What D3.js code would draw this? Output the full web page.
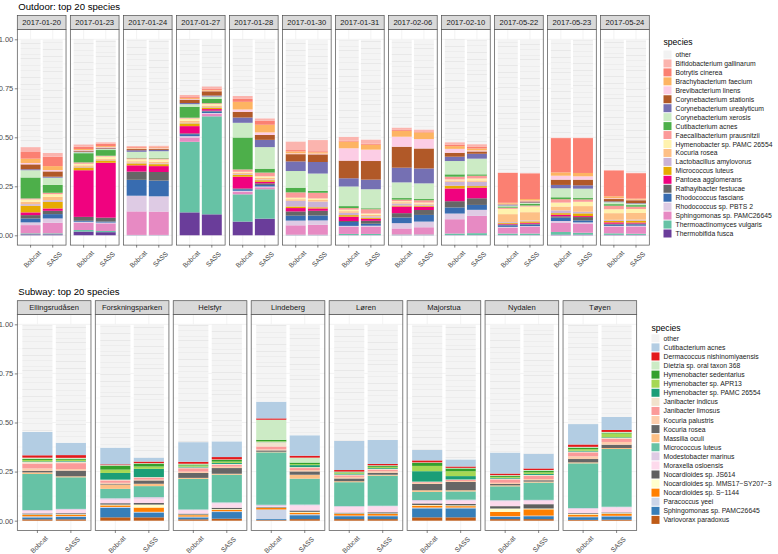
<!DOCTYPE html>
<html>
<head>
<meta charset="utf-8">
<script src="https://cdn.jsdelivr.net/npm/d3@7"></script>
<style>
  body { margin: 0; background: #fff; }
  svg { display: block; font-family: "Liberation Sans", Arial, sans-serif; }
</style>
</head>
<body>
<svg width="778" height="554"></svg>
<script>
// ---------- data ----------
const samplers = ["Bobcat", "SASS"];

const outdoorDates = ["2017-01-20","2017-01-23","2017-01-24","2017-01-27","2017-01-28","2017-01-30",
                      "2017-01-31","2017-02-06","2017-02-10","2017-05-22","2017-05-23","2017-05-24"];
const outdoorSpecies = ["Bifidobacterium gallinarum","Botrytis cinerea","Brachybacterium faecium",
  "Brevibacterium linens","Corynebacterium stationis","Corynebacterium urealyticum","Corynebacterium xerosis",
  "Cutibacterium acnes","Faecalibacterium prausnitzii","Hymenobacter sp. PAMC 26554","Kocuria rosea",
  "Lactobacillus amylovorus","Micrococcus luteus","Pantoea agglomerans","Rathayibacter festucae",
  "Rhodococcus fascians","Rhodococcus sp. PBTS 2","Sphingomonas sp. PAMC26645","Thermoactinomyces vulgaris",
  "Thermobifida fusca"];
const outdoorColors = ["#fbb4ae","#fb8072","#fdb462","#fccde5","#b15928","#7570b3","#ccebc5","#4daf4a",
  "#fb9a99","#fff2ae","#fdc086","#cab2d6","#e6ab02","#f0027f","#666666","#386cb0","#decbe4","#e78ac3",
  "#66c2a5","#6a3d9a"];
// relative abundance per date, species in legend order
const outdoorBobcat = [
  [0.025,0.034,0.022,0.007,0.025,0.005,0.037,0.107,0.005,0.012,0.012,0.008,0.034,0.014,0.017,0.020,0.014,0.042,0.005,0.005],
  [0.012,0.012,0.005,0.003,0.005,0.003,0.005,0.047,0.007,0.008,0.008,0.003,0.014,0.238,0.020,0.005,0.005,0.037,0.008,0.019],
  [0.005,0.004,0.004,0.003,0.006,0.008,0.030,0.003,0.005,0.010,0.007,0.004,0.010,0.032,0.042,0.081,0.080,0.120,0.001,0.001],
  [0.012,0.005,0.005,0.003,0.017,0.006,0.013,0.056,0.004,0.012,0.010,0.003,0.014,0.037,0.004,0.010,0.007,0.022,0.360,0.117],
  [0.015,0.015,0.039,0.012,0.029,0.027,0.075,0.163,0.012,0.004,0.007,0.004,0.010,0.060,0.004,0.008,0.005,0.013,0.139,0.070],
  [0.044,0.007,0.010,0.004,0.037,0.049,0.085,0.024,0.027,0.008,0.008,0.029,0.008,0.017,0.022,0.025,0.024,0.048,0.002,0.001],
  [0.020,0.005,0.034,0.063,0.090,0.042,0.100,0.010,0.008,0.008,0.008,0.012,0.008,0.022,0.005,0.020,0.005,0.036,0.006,0.001],
  [0.012,0.005,0.030,0.051,0.107,0.075,0.080,0.008,0.008,0.005,0.007,0.010,0.005,0.034,0.022,0.029,0.027,0.031,0.003,0.001],
  [0.012,0.008,0.014,0.020,0.020,0.022,0.068,0.012,0.014,0.005,0.007,0.020,0.014,0.065,0.032,0.031,0.029,0.073,0.008,0.001],
  [0.003,0.152,0.005,0.003,0.003,0.003,0.005,0.006,0.006,0.027,0.040,0.004,0.005,0.004,0.004,0.008,0.004,0.030,0.008,0.001],
  [0.003,0.175,0.017,0.020,0.027,0.017,0.046,0.010,0.017,0.020,0.020,0.014,0.008,0.008,0.007,0.017,0.010,0.046,0.014,0.003],
  [0.003,0.132,0.010,0.004,0.012,0.004,0.010,0.008,0.018,0.020,0.034,0.005,0.008,0.007,0.004,0.007,0.004,0.034,0.008,0.002]
];
const outdoorSASS = [
  [0.020,0.048,0.020,0.007,0.027,0.005,0.037,0.040,0.007,0.014,0.017,0.008,0.034,0.012,0.017,0.022,0.022,0.054,0.005,0.005],
  [0.008,0.012,0.005,0.003,0.004,0.003,0.005,0.029,0.004,0.012,0.005,0.003,0.012,0.280,0.020,0.005,0.004,0.039,0.006,0.016],
  [0.005,0.005,0.004,0.003,0.005,0.007,0.034,0.003,0.005,0.012,0.008,0.004,0.010,0.030,0.044,0.080,0.078,0.119,0.001,0.001],
  [0.013,0.005,0.004,0.003,0.022,0.005,0.012,0.022,0.004,0.008,0.007,0.003,0.008,0.008,0.004,0.008,0.004,0.013,0.500,0.107],
  [0.013,0.020,0.039,0.013,0.025,0.037,0.110,0.020,0.019,0.008,0.008,0.004,0.008,0.008,0.008,0.008,0.004,0.010,0.150,0.085],
  [0.057,0.005,0.007,0.004,0.039,0.059,0.088,0.010,0.029,0.008,0.008,0.029,0.006,0.012,0.024,0.025,0.022,0.051,0.002,0.001],
  [0.022,0.005,0.025,0.058,0.095,0.049,0.097,0.005,0.022,0.007,0.007,0.007,0.006,0.010,0.015,0.010,0.005,0.037,0.006,0.001],
  [0.010,0.005,0.034,0.048,0.102,0.076,0.080,0.006,0.012,0.005,0.006,0.005,0.005,0.017,0.025,0.034,0.029,0.037,0.003,0.001],
  [0.012,0.010,0.010,0.005,0.012,0.025,0.080,0.007,0.014,0.010,0.007,0.022,0.008,0.054,0.034,0.025,0.031,0.088,0.010,0.001],
  [0.003,0.131,0.008,0.004,0.005,0.003,0.005,0.008,0.005,0.029,0.042,0.005,0.007,0.005,0.004,0.008,0.004,0.034,0.008,0.001],
  [0.003,0.178,0.017,0.017,0.029,0.017,0.048,0.007,0.012,0.022,0.029,0.008,0.014,0.005,0.017,0.010,0.007,0.046,0.010,0.003],
  [0.003,0.130,0.005,0.003,0.015,0.003,0.007,0.008,0.012,0.020,0.034,0.005,0.010,0.005,0.004,0.007,0.004,0.037,0.006,0.002]
];

const subwayStations = ["Ellingsrudåsen","Forskningsparken","Helsfyr","Lindeberg","Løren","Majorstua","Nydalen","Tøyen"];
const subwaySpecies = ["Cutibacterium acnes","Dermacoccus nishinomiyaensis","Dietzia sp. oral taxon 368",
  "Hymenobacter sedentarius","Hymenobacter sp. APR13","Hymenobacter sp. PAMC 26554","Janibacter indicus",
  "Janibacter limosus","Kocuria palustris","Kocuria rosea","Massilia oculi","Micrococcus luteus",
  "Modestobacter marinus","Moraxella osloensis","Nocardioides sp. JS614","Nocardioides sp. MMS17\u2212SY207\u22123",
  "Nocardioides sp. S\u22121144","Paracoccus yeei","Sphingomonas sp. PAMC26645","Variovorax paradoxus"];
const subwayColors = ["#b3cde3","#e31a1c","#ccebc5","#33a02c","#a6d854","#1b9e77","#f1e2cc","#fb9a99",
  "#fdcdac","#666666","#fdc086","#66c2a5","#decbe4","#fddaec","#5f5f5f","#ffffcc","#ff7f00","#cbd5e8",
  "#377eb8","#bf5b17"];
const subwayBobcat = [
  [0.119,0.012,0.007,0.005,0.007,0.003,0.008,0.025,0.012,0.008,0.008,0.184,0.005,0.012,0.005,0.003,0.007,0.005,0.010,0.007],
  [0.085,0.004,0.003,0.020,0.017,0.034,0.004,0.012,0.005,0.004,0.022,0.048,0.007,0.018,0.007,0.004,0.008,0.004,0.049,0.017],
  [0.100,0.010,0.004,0.005,0.006,0.004,0.004,0.017,0.007,0.025,0.005,0.156,0.004,0.017,0.005,0.003,0.007,0.004,0.010,0.007],
  [0.085,0.007,0.102,0.007,0.003,0.002,0.022,0.015,0.005,0.007,0.003,0.267,0.007,0.004,0.003,0.002,0.008,0.049,0.005,0.003],
  [0.148,0.008,0.004,0.004,0.004,0.003,0.004,0.008,0.008,0.014,0.005,0.122,0.004,0.029,0.004,0.003,0.008,0.003,0.015,0.008],
  [0.053,0.010,0.003,0.015,0.027,0.053,0.003,0.004,0.005,0.032,0.008,0.042,0.007,0.010,0.008,0.003,0.010,0.004,0.046,0.017],
  [0.107,0.008,0.004,0.005,0.005,0.004,0.004,0.017,0.006,0.007,0.005,0.071,0.005,0.025,0.012,0.017,0.022,0.003,0.012,0.008],
  [0.104,0.012,0.004,0.008,0.008,0.004,0.004,0.020,0.014,0.017,0.005,0.228,0.004,0.022,0.004,0.003,0.010,0.003,0.014,0.004]
];
const subwaySASS = [
  [0.063,0.014,0.005,0.005,0.006,0.003,0.008,0.030,0.008,0.029,0.005,0.161,0.005,0.017,0.005,0.003,0.007,0.004,0.012,0.007],
  [0.020,0.008,0.003,0.014,0.012,0.042,0.003,0.010,0.004,0.017,0.012,0.056,0.008,0.022,0.008,0.015,0.022,0.003,0.025,0.017],
  [0.080,0.012,0.003,0.008,0.007,0.005,0.004,0.010,0.007,0.029,0.005,0.141,0.005,0.022,0.007,0.004,0.007,0.004,0.034,0.010],
  [0.104,0.010,0.025,0.008,0.005,0.010,0.005,0.010,0.007,0.017,0.020,0.132,0.005,0.025,0.007,0.004,0.008,0.005,0.020,0.008],
  [0.122,0.007,0.004,0.005,0.005,0.004,0.004,0.008,0.008,0.010,0.005,0.153,0.004,0.029,0.006,0.003,0.008,0.003,0.015,0.008],
  [0.036,0.007,0.003,0.014,0.025,0.017,0.003,0.005,0.005,0.042,0.006,0.042,0.005,0.017,0.007,0.004,0.007,0.004,0.046,0.017],
  [0.075,0.008,0.004,0.008,0.008,0.005,0.004,0.017,0.006,0.007,0.005,0.088,0.005,0.017,0.022,0.004,0.032,0.003,0.015,0.008],
  [0.066,0.010,0.004,0.004,0.019,0.003,0.004,0.017,0.014,0.017,0.005,0.294,0.004,0.025,0.004,0.003,0.010,0.003,0.017,0.005]
];

const yBreaks = [0, 0.25, 0.5, 0.75, 1];
const yMinor  = [0.125, 0.375, 0.625, 0.875];

// ---------- drawing ----------
const svg  = d3.select("svg");
const defs = svg.append("defs");
let patCount = 0;

// faint striped texture for the many tiny "other" taxa
function otherPattern() {
  const id = "other" + patCount;
  const off = (patCount * 13) % 41;
  patCount++;
  const p = defs.append("pattern").attr("id", id)
    .attr("patternUnits", "userSpaceOnUse")
    .attr("width", 10).attr("height", 41)
    .attr("patternTransform", `translate(0,${off})`);
  p.append("rect").attr("width", 10).attr("height", 41).attr("fill", "#f4f4f4");
  [2, 7.5, 13, 17, 24, 29.5, 36].forEach((yy, i) => {
    p.append("rect").attr("x", 0).attr("y", yy).attr("width", 10)
      .attr("height", i % 3 === 0 ? 0.9 : 0.5).attr("fill", "#e7e7e7");
  });
  return id;
}

function drawPanel(cfg) {
  const g = svg.append("g");

  const fx = d3.scaleBand().domain(cfg.facets).range([cfg.left, cfg.right]).paddingInner(cfg.gap);
  const xin = d3.scaleBand().domain(samplers).range([0, fx.bandwidth()]).paddingInner(0.1).paddingOuter(0.15);
  const y = d3.scaleLinear().domain([-0.05, 1.05]).range([cfg.panelBottom, cfg.panelTop]);
  const color = d3.scaleOrdinal().domain(["other", ...cfg.species]).range(["#f2f2f2", ...cfg.colors]);

  // rows: one per facet x sampler
  const rows = [];
  cfg.facets.forEach((f, i) => {
    samplers.forEach(s => {
      const vals = (s === "Bobcat" ? cfg.bobcat : cfg.sass)[i];
      const r = { facet: f, sampler: s, pat: otherPattern() };
      cfg.species.forEach((sp, k) => r[sp] = vals[k]);
      r.other = 1 - d3.sum(vals);
      rows.push(r);
    });
  });
  // first legend level sits on top of the stack (ggplot order)
  const series = d3.stack().keys([...cfg.species].reverse().concat("other"))(rows);

  // title
  g.append("text").attr("x", cfg.left + 1).attr("y", cfg.titleY)
    .style("font-size", "9.6px").attr("fill", "#000").text(cfg.title);

  const pw = fx.bandwidth();
  const facetG = g.selectAll(".facet").data(cfg.facets).join("g")
    .attr("class", "facet")
    .attr("transform", d => `translate(${fx(d)},0)`);

  // panel background + grid
  facetG.append("rect").attr("x", 0).attr("y", cfg.panelTop)
    .attr("width", pw).attr("height", cfg.panelBottom - cfg.panelTop).attr("fill", "#fff");
  facetG.each(function() {
    const fg = d3.select(this);
    yMinor.forEach(v => fg.append("line").attr("x1", 0).attr("x2", pw)
      .attr("y1", y(v)).attr("y2", y(v)).attr("stroke", "#f0f0f0").attr("stroke-width", 0.35));
    yBreaks.forEach(v => fg.append("line").attr("x1", 0).attr("x2", pw)
      .attr("y1", y(v)).attr("y2", y(v)).attr("stroke", "#ebebeb").attr("stroke-width", 0.6));
    samplers.forEach(s => {
      const cx = xin(s) + xin.bandwidth() / 2;
      fg.append("line").attr("x1", cx).attr("x2", cx)
        .attr("y1", cfg.panelTop).attr("y2", cfg.panelBottom).attr("stroke", "#ebebeb").attr("stroke-width", 0.6);
    });
  });

  // stacked bars
  g.append("g").selectAll("g").data(series).join("g")
    .selectAll("rect").data(s => s.map(d => ({ key: s.key, d })))
    .join("rect")
    .attr("x", o => fx(o.d.data.facet) + xin(o.d.data.sampler))
    .attr("width", xin.bandwidth())
    .attr("y", o => y(o.d[1]))
    .attr("height", o => Math.max(0, y(o.d[0]) - y(o.d[1])))
    .attr("fill", o => o.key === "other" ? `url(#${o.d.data.pat})` : color(o.key));

  // panel border + strip
  facetG.append("rect").attr("x", 0).attr("y", cfg.panelTop)
    .attr("width", pw).attr("height", cfg.panelBottom - cfg.panelTop)
    .attr("fill", "none").attr("stroke", "#4d4d4d").attr("stroke-width", 0.7);
  facetG.append("rect").attr("x", 0).attr("y", cfg.stripTop)
    .attr("width", pw).attr("height", cfg.panelTop - cfg.stripTop)
    .attr("fill", "#d9d9d9").attr("stroke", "#4d4d4d").attr("stroke-width", 0.7);
  facetG.append("text").attr("x", pw / 2).attr("y", (cfg.stripTop + cfg.panelTop) / 2)
    .attr("text-anchor", "middle").attr("dominant-baseline", "central")
    .style("font-size", "7.6px").attr("fill", "#1a1a1a").text(d => d);

  // x axes
  facetG.append("g").attr("transform", `translate(0,${cfg.panelBottom})`)
    .call(d3.axisBottom(xin).tickSize(2.5))
    .call(a => a.select(".domain").remove())
    .call(a => a.selectAll("line").attr("stroke", "#333").attr("stroke-width", 0.6))
    .call(a => a.selectAll("text")
      .attr("y", null).attr("dy", null)
      .attr("text-anchor", "middle").attr("dominant-baseline", "central")
      .attr("transform", "translate(1.5,14) rotate(-45)")
      .attr("fill", "#4d4d4d").style("font-size", "6.8px").style("font-family", null));

  // y axis
  g.append("g").attr("transform", `translate(${cfg.left},0)`)
    .call(d3.axisLeft(y).tickValues(yBreaks).tickFormat(d3.format(".2f")).tickSize(2.5).tickPadding(1.5))
    .call(a => a.select(".domain").remove())
    .call(a => a.selectAll("line").attr("stroke", "#333").attr("stroke-width", 0.6))
    .call(a => a.selectAll("text").attr("fill", "#4d4d4d").style("font-size", "7.5px").style("font-family", null));

  // legend
  const lg = g.append("g");
  lg.append("text").attr("x", cfg.legendX).attr("y", cfg.legendTitleY)
    .style("font-size", "8.6px").attr("fill", "#000").text("species");
  const items = ["other", ...cfg.species];
  const li = lg.selectAll(".li").data(items).join("g")
    .attr("transform", (d, i) => `translate(${cfg.legendX},${cfg.legendFirstY + i * cfg.legendStep})`);
  li.append("rect").attr("x", 0).attr("y", -4).attr("width", 8).attr("height", 8)
    .attr("fill", d => color(d));
  li.append("text").attr("x", cfg.labelDX).attr("y", 0).attr("dominant-baseline", "central")
    .style("font-size", cfg.legendFont).attr("fill", "#1a1a1a").text(d => d);
}

drawPanel({
  title: "Outdoor: top 20 species", titleY: 9.5,
  facets: outdoorDates, species: outdoorSpecies, colors: outdoorColors,
  bobcat: outdoorBobcat, sass: outdoorSASS,
  left: 17.3, right: 649.3, gap: 0.081,
  stripTop: 15.5, panelTop: 29.5, panelBottom: 245.1,
  legendX: 663.5, legendTitleY: 44.5, legendFirstY: 54.5, legendStep: 8.95,
  labelDX: 12, legendFont: "6.8px"
});

drawPanel({
  title: "Subway: top 20 species", titleY: 294.5,
  facets: subwayStations, species: subwaySpecies, colors: subwayColors,
  bobcat: subwayBobcat, sass: subwaySASS,
  left: 17.3, right: 636.7, gap: 0.055,
  stripTop: 300.7, panelTop: 314.5, panelBottom: 530.5,
  legendX: 651.5, legendTitleY: 330.5, legendFirstY: 338.3, legendStep: 9.08,
  labelDX: 12, legendFont: "6.8px"
});
</script>
</body>
</html>
